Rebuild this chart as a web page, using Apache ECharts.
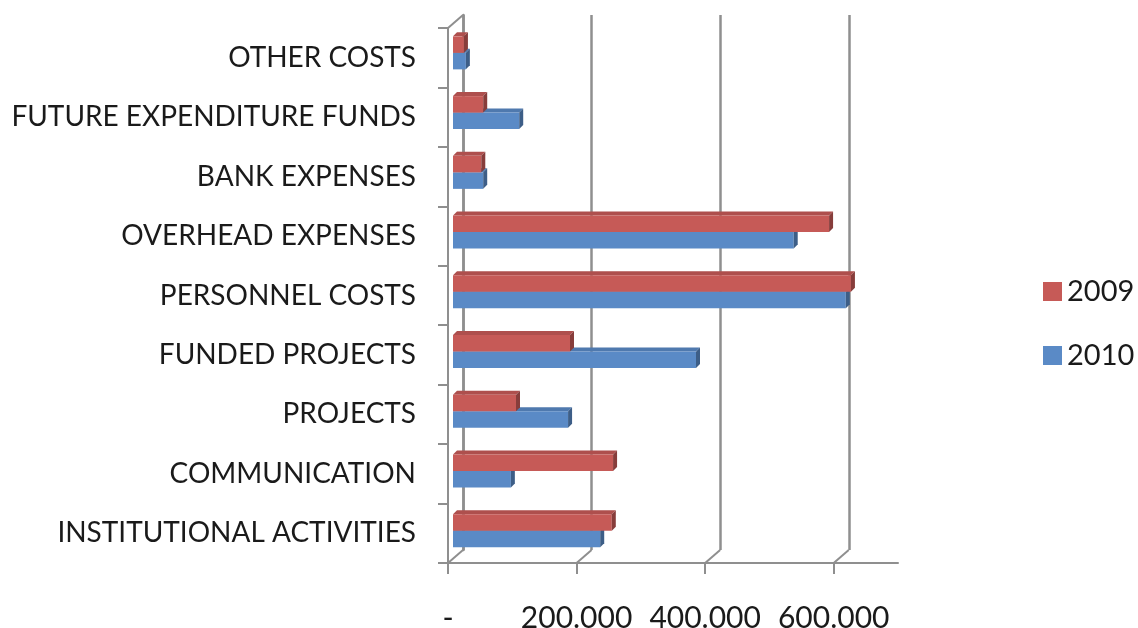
<!DOCTYPE html>
<html>
<head>
<meta charset="utf-8">
<script src="https://cdn.jsdelivr.net/npm/echarts@6/dist/echarts.min.js"></script>
<style>
  html, body { margin: 0; padding: 0; background: #fff; }
  #chart { width: 1138px; height: 628px; }
</style>
</head>
<body>
<div id="chart"></div>
<script>
// categories, bottom to top as on the chart
const categories = [
  'INSTITUTIONAL ACTIVITIES',
  'COMMUNICATION',
  'PROJECTS',
  'FUNDED PROJECTS',
  'PERSONNEL COSTS',
  'OVERHEAD EXPENSES',
  'BANK EXPENSES',
  'FUTURE EXPENDITURE FUNDS',
  'OTHER COSTS'
]
const values2009 = [247000, 249000, 98000, 182000, 619000, 585000, 44000, 47000, 17000]
const values2010 = [229000, 90000, 179000, 378000, 611000, 530000, 47000, 103000, 20000]
const tickValues = [0, 200000, 400000, 600000]

const font = 'Lato, "Open Sans", sans-serif'
const lineGray = '#8f8f8f'

// depth of the fake 3D
const DEPTH_X = 15
const DEPTH_Y = -13

function shade(hex, f) {
  const n = parseInt(hex.slice(1), 16)
  const r = Math.round(((n >> 16) & 255) * f)
  const g = Math.round(((n >> 8) & 255) * f)
  const b = Math.round((n & 255) * f)
  return 'rgb(' + r + ',' + g + ',' + b + ')'
}

// one 3D-looking bar: front face, top face, end face
function barRenderer(color, upper) {
  return function (params, api) {
    const cs = params.coordSys
    const val = api.value(0)
    const cat = api.value(1)
    const p0 = api.coord([0, cat])
    const p1 = api.coord([val, cat])
    // perspective drift: bars sit a bit higher toward the top
    const frac = (cs.y + cs.height - p0[1]) / cs.height
    const mid = p0[1] - 2.3 - 2.7 * frac
    const h = 16.5
    const x0 = p0[0] + 5
    const x1 = p1[0] + 5
    const yTop = upper ? mid - h : mid
    const yBot = upper ? mid : mid + h
    const dx = 4, dy = -4
    return {
      type: 'group',
      children: [
        {
          type: 'polygon',
          shape: { points: [[x0, yTop], [x1, yTop], [x1 + dx, yTop + dy], [x0 + dx, yTop + dy]] },
          style: { fill: shade(color, 0.88) }
        },
        {
          type: 'rect',
          shape: { x: x0, y: yTop, width: x1 - x0, height: yBot - yTop },
          style: { fill: color }
        },
        {
          type: 'polygon',
          shape: { points: [[x1, yTop], [x1 + dx, yTop + dy], [x1 + dx, yBot + dy], [x1, yBot]] },
          style: { fill: shade(color, 0.68) }
        }
      ]
    }
  }
}

// little diagonals joining the back wall to the front axes
function frameRenderer(params, api) {
  const cs = params.coordSys
  const v = api.value(0)
  const p = api.coord([v, 0])
  const floorY = cs.y + cs.height
  const children = [{
    type: 'line',
    shape: { x1: p[0], y1: floorY, x2: p[0] + DEPTH_X, y2: floorY + DEPTH_Y },
    style: { stroke: lineGray, lineWidth: 2 }
  }]
  if (v === 0) {
    children.push({
      type: 'line',
      shape: { x1: cs.x, y1: cs.y, x2: cs.x + DEPTH_X, y2: cs.y + DEPTH_Y },
      style: { stroke: lineGray, lineWidth: 2 }
    })
  }
  return { type: 'group', children: children }
}

const chart = echarts.init(document.getElementById('chart'), null, { renderer: 'canvas' })

const option = {
  backgroundColor: '#fff',
  animation: false,
  legend: {
    data: ['2009', '2010'],
    orient: 'vertical',
    left: 1038,
    top: 272,
    itemWidth: 19,
    itemHeight: 19,
    itemGap: 35,
    icon: 'rect',
    textStyle: { fontFamily: font, fontSize: 29, color: '#1a1a1a' }
  },
  grid: [
    // front plane (axes, labels)
    { left: 448, width: 450, top: 28, height: 535, outerBoundsMode: 'none', containLabel: false },
    // back wall (gridlines)
    { left: 448 + DEPTH_X, width: 386, top: 28 + DEPTH_Y, height: 535, outerBoundsMode: 'none', containLabel: false }
  ],
  xAxis: [
    {
      gridIndex: 0,
      type: 'value',
      min: 0,
      max: 700000,
      interval: 200000,
      axisLine: { show: true, lineStyle: { color: lineGray, width: 2 } },
      axisTick: { show: true, customValues: tickValues, length: 11, lineStyle: { color: lineGray, width: 2 } },
      axisLabel: {
        customValues: tickValues,
        margin: 40,
        fontFamily: font,
        fontSize: 30,
        color: '#1a1a1a',
        formatter: (v) => v === 0 ? '-' : (v / 1000) + '.000'
      },
      splitLine: { show: false }
    },
    {
      gridIndex: 1,
      type: 'value',
      min: 0,
      max: 600000,
      interval: 200000,
      axisLine: { show: false },
      axisTick: { show: false },
      axisLabel: { show: false },
      splitLine: { show: true, lineStyle: { color: lineGray, width: 2.5 } }
    }
  ],
  yAxis: [
    {
      gridIndex: 0,
      type: 'category',
      data: categories,
      axisLine: { show: true, lineStyle: { color: lineGray, width: 2 } },
      axisTick: { show: true, length: 10, lineStyle: { color: lineGray, width: 2 } },
      axisLabel: { margin: 32, fontFamily: font, fontSize: 28, color: '#1a1a1a' }
    },
    {
      gridIndex: 1,
      type: 'category',
      data: categories,
      axisLine: { show: true, lineStyle: { color: lineGray, width: 2.5 } },
      axisTick: { show: false },
      axisLabel: { show: false }
    }
  ],
  series: [
    {
      name: 'frame',
      type: 'custom',
      xAxisIndex: 0,
      yAxisIndex: 0,
      silent: true,
      z: 1,
      renderItem: frameRenderer,
      data: tickValues.map((v) => [v])
    },
    {
      name: '2010',
      type: 'custom',
      xAxisIndex: 0,
      yAxisIndex: 0,
      z: 3,
      itemStyle: { color: '#5a8ac6' },
      renderItem: barRenderer('#5a8ac6', false),
      encode: { x: 0, y: 1 },
      data: values2010.map((v, i) => [v, i])
    },
    {
      name: '2009',
      type: 'custom',
      xAxisIndex: 0,
      yAxisIndex: 0,
      z: 4,
      itemStyle: { color: '#c65a57' },
      renderItem: barRenderer('#c65a57', true),
      encode: { x: 0, y: 1 },
      data: values2009.map((v, i) => [v, i])
    }
  ]
}

chart.setOption(option)
</script>
</body>
</html>
